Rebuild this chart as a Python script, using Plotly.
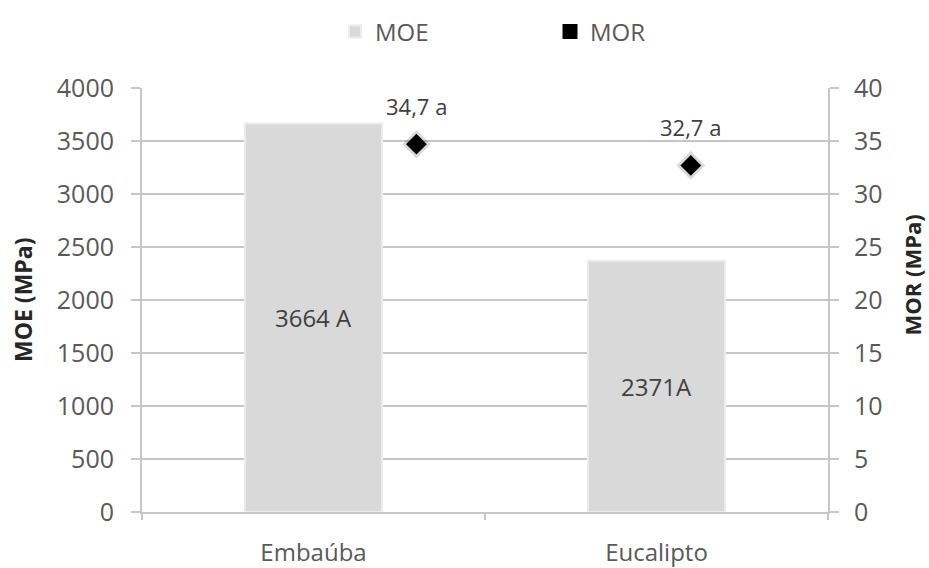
import plotly.graph_objects as go

categories = ["Embaúba", "Eucalipto"]
moe_values = [3664, 2371]
moe_labels = ["3664 A", "2371A"]
mor_values = [34.7, 32.7]
mor_labels = ["34,7 a", "32,7 a"]
mor_positions = [1, 2]

FONT = "Open Sans, Roboto, sans-serif"
TXT = "#404040"
TICK = "#595959"
GRID = "#c6c6c6"

fig = go.Figure()

fig.add_trace(go.Bar(
    x=categories, y=moe_values, name="MOE",
    width=0.4,
    marker=dict(color="#d9d9d9", line=dict(color="#ececec", width=2)),
    text=moe_labels, textposition="inside", insidetextanchor="middle",
    textfont=dict(size=24, color=TXT, family=FONT),
    showlegend=True,
))

# soft shadow for markers
fig.add_trace(go.Scatter(
    x=mor_positions, y=mor_values, xaxis="x2", yaxis="y2",
    mode="markers", showlegend=False, hoverinfo="skip",
    marker=dict(symbol="diamond", size=22, color="rgba(0,0,0,0.15)"),
))
fig.add_trace(go.Scatter(
    x=mor_positions, y=mor_values, xaxis="x2", yaxis="y2",
    mode="markers", name="MOR", showlegend=False,
    marker=dict(symbol="diamond", size=16, color="black"),
))
# legend entry for MOR (square swatch)
fig.add_trace(go.Scatter(
    x=[None], y=[None], xaxis="x2", yaxis="y2",
    mode="markers", name="MOR",
    marker=dict(symbol="square", size=15, color="black"),
))

for xp, yv, lab in zip(mor_positions, mor_values, mor_labels):
    fig.add_annotation(x=xp, y=yv, xref="x2", yref="y2", text=lab,
                       showarrow=False, yshift=38,
                       font=dict(size=22, color=TXT, family=FONT))

fig.add_annotation(x=-0.1735, y=0.5, xref="paper", yref="paper", text="<b>MOE (MPa)</b>",
                   textangle=-90, showarrow=False, xanchor="center", yanchor="middle",
                   font=dict(size=23, color="#262626", family=FONT))
fig.add_annotation(x=1.1224, y=0.56, xref="paper", yref="paper", text="<b>MOR (MPa)</b>",
                   textangle=-90, showarrow=False, xanchor="center", yanchor="middle",
                   font=dict(size=22, color="#262626", family=FONT))

fig.update_layout(
    width=929, height=568,
    margin=dict(l=142, r=101, t=88, b=56),
    paper_bgcolor="white", plot_bgcolor="white",
    font=dict(family=FONT, color=TICK),
    legend=dict(orientation="h", xref="container", yref="container",
                x=0.3606, xanchor="left", y=0.944, yanchor="middle",
                font=dict(size=24, color=TICK, family=FONT),
                entrywidth=170, entrywidthmode="pixels", itemwidth=30),
    xaxis=dict(type="category", range=[-0.5, 1.5], tickson="boundaries",
               ticks="outside", ticklen=6, tickcolor=GRID, tickwidth=2,
               showline=True, linecolor=GRID, linewidth=2, automargin=False,
               ticklabelstandoff=18,
               tickfont=dict(size=24, color=TICK), showgrid=False),
    xaxis2=dict(overlaying="x", range=[0, 2.5], visible=False, anchor="y2"),
    yaxis=dict(range=[0, 4000], dtick=500, showgrid=True, gridcolor=GRID, gridwidth=2,
               showline=True, linecolor=GRID, linewidth=2, automargin=False,
               ticks="outside", ticklen=9, tickcolor=GRID, tickwidth=2,
               ticklabelstandoff=12,
               tickfont=dict(size=25, color=TICK), zeroline=False),
    yaxis2=dict(range=[0, 40], dtick=5, overlaying="y", side="right", showgrid=False,
                showline=True, linecolor=GRID, linewidth=2, automargin=False,
                ticks="outside", ticklen=9, tickcolor=GRID, tickwidth=2,
                ticklabelstandoff=10,
                tickfont=dict(size=25, color=TICK), zeroline=False),
)

fig.write_html("out.html",
               config={"displayModeBar": False},
               post_script="document.body.style.margin='0';document.body.style.overflow='hidden';")
